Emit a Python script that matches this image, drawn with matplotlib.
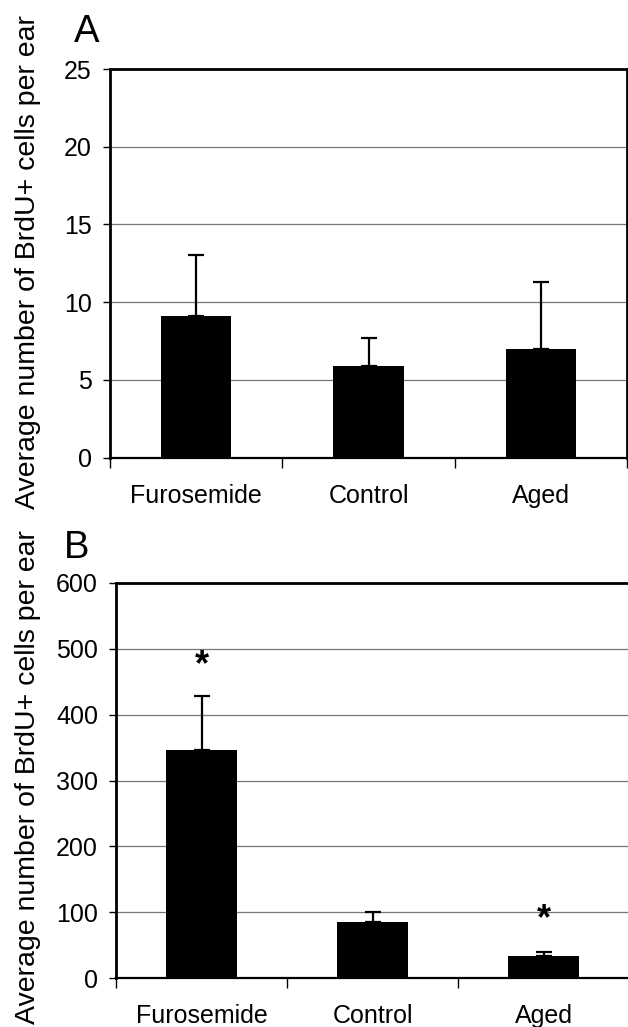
import numpy as np
import matplotlib.pyplot as plt

plt.rcParams['font.family'] = ['Liberation Sans', 'DejaVu Sans']

grupos = ['Furosemide', 'Control', 'Aged']
# panel A
mediaA = [9.1, 5.9, 7.0]
errA = [3.9, 1.8, 4.3]
# panel B
mediaB = [346, 85, 33]
errB = [82, 15, 7]
estrellaB = [475, None, 88]

ylabel = 'Average number of BrdU+ cells per ear'

fig = plt.figure(figsize=(6.28, 10.27), dpi=100)

def panel(ax, media, err, ymax, paso):
    x = np.arange(len(media)) + 0.5
    ax.bar(x, media, width=0.41, color='black', zorder=3)
    ax.errorbar(x, media, yerr=[np.zeros(len(err)), err], fmt='none',
                ecolor='black', elinewidth=1.6, capsize=5.5, capthick=1.6, zorder=4)
    ax.set_xlim(0, len(media))
    ax.set_ylim(0, ymax)
    ax.set_yticks(np.arange(0, ymax + 1, paso))
    ax.yaxis.grid(True, color='#777777', linewidth=0.9)
    ax.set_axisbelow(True)
    ax.set_xticks(np.arange(0, len(media) + 1))
    ax.set_xticklabels([])
    ax.set_xticks(x, minor=True)
    ax.set_xticklabels(grupos, minor=True, fontsize=18)
    ax.tick_params(axis='x', which='minor', length=0, pad=19)
    ax.tick_params(axis='x', which='major', length=7, width=1, direction='out')
    ax.tick_params(axis='y', length=5, width=1, labelsize=18, pad=8)
    for s in ['top', 'left', 'right']:
        ax.spines[s].set_linewidth(2)
    ax.spines['bottom'].set_linewidth(1.6)
    return x

axA = fig.add_axes([110/628, 1 - 457.5/1027, 517/628, (457.5 - 69)/1027])
panel(axA, mediaA, errA, 25, 5)

axB = fig.add_axes([116/628, 1 - 978/1027, 513/628, (978 - 583)/1027])
xb = panel(axB, mediaB, errB, 600, 100)
for xi, s in zip(xb, estrellaB):
    if s is not None:
        axB.text(xi, s, '*', ha='center', va='center', fontsize=26, fontweight='bold')

# etiquetas del eje y y letras de panel
for yc in [262.5, 777.5]:
    fig.text(35/628, 1 - yc/1027, ylabel, rotation=90, rotation_mode='anchor',
             ha='center', va='baseline', fontsize=20.5)
fig.text(74/628, 1 - 42/1027, 'A', fontsize=27.5, va='baseline', ha='left')
fig.text(64/628, 1 - 558/1027, 'B', fontsize=27.5, va='baseline', ha='left')

fig.savefig('out.png', dpi=100)
